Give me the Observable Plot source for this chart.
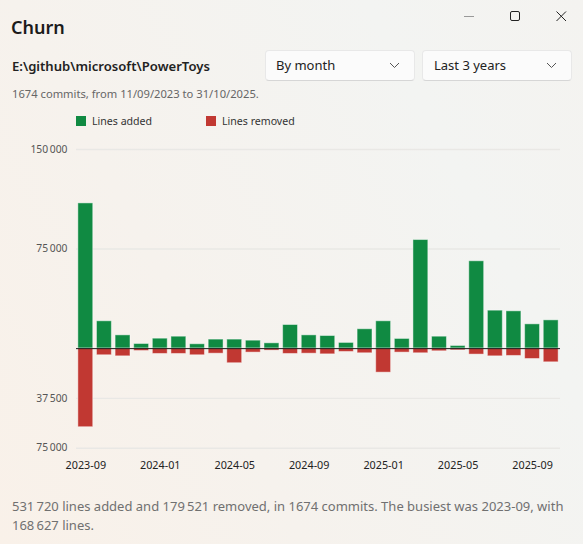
<!DOCTYPE html>
<html><head><meta charset="utf-8">
<script src="https://cdn.jsdelivr.net/npm/d3@7"></script>
<script src="https://cdn.jsdelivr.net/npm/@observablehq/plot@0.6"></script>
<style>
html,body{margin:0;padding:0;width:583px;height:544px;overflow:hidden}
body{position:relative;font-family:"Noto Sans",sans-serif;color:#1b1b1b;
background:linear-gradient(62deg,#f9f1e9 0%,#f6f2ed 35%,#f3f4f2 75%,#f4f3f0 100%)}
.a{position:absolute;white-space:nowrap}
.dd{position:absolute;top:50px;height:29px;width:148px;background:#fbfbfb;border:1px solid #e8e8e8;border-bottom-color:#d6d6d6;border-radius:4px;box-sizing:content-box;font-size:13px;line-height:29px;text-indent:10px;color:#222}
.dd svg{position:absolute;right:14px;top:11px}
.sw{position:absolute;top:116px;width:10px;height:10px}
#chart{position:absolute;left:0;top:140px}
#chart svg{display:block;background:transparent}
</style></head><body>
<div class="a" style="left:11px;top:14px;font-size:18px;font-weight:600;line-height:26px">Churn</div>
<svg class="a" style="left:460px;top:5px" width="115" height="22" fill="none" stroke="#222" stroke-width="1">
<line x1="4" y1="11.5" x2="14" y2="11.5" stroke="#999"/>
<rect x="50.5" y="6.5" width="9" height="9" rx="1.5"/>
<path d="M96.500 6.500l9.500 9.500M106 6.500l-9.500 9.500"/></svg>
<div class="a" style="left:12px;top:56px;font-size:13.1px;font-weight:600;line-height:20px;color:#222">E:\github\microsoft\PowerToys</div>
<div class="dd" style="left:265px">By month<svg width="11" height="7" fill="none" stroke="#555"><path d="M1 1l4.500 4.500L10 1"/></svg></div>
<div class="dd" style="left:422px;text-indent:11px">Last 3 years<svg width="11" height="7" fill="none" stroke="#555"><path d="M1 1l4.500 4.500L10 1"/></svg></div>
<div class="a" style="left:12px;top:86px;font-size:11.2px;line-height:15px;color:#666">1674 commits, from 11/09/2023 to 31/10/2025.</div>
<div class="sw" style="left:76px;background:#108a42"></div>
<div class="a" style="left:92px;top:114px;font-size:10.6px;line-height:15px;color:#333">Lines added</div>
<div class="sw" style="left:206px;background:#c13832"></div>
<div class="a" style="left:222px;top:114px;font-size:10.6px;line-height:15px;color:#333">Lines removed</div>
<div id="chart"></div>
<div class="a" style="left:12px;top:497px;width:560px;white-space:normal;font-size:13px;line-height:19px;color:#707070">531&#8201;720 lines added and 179&#8201;521 removed, in 1674 commits. The busiest was 2023-09, with 168&#8201;627 lines.</div>
<script>
const months = ["2023-09","2023-10","2023-11","2023-12","2024-01","2024-02","2024-03","2024-04","2024-05","2024-06","2024-07","2024-08","2024-09","2024-10","2024-11","2024-12","2025-01","2025-02","2025-03","2025-04","2025-05","2025-06","2025-07","2025-08","2025-09","2025-10"];
const added = [109400,20600,10000,3500,7500,9000,3300,6800,6800,6000,4000,17800,10000,9500,4300,14600,20600,7300,81800,9000,2000,65800,28600,28100,18300,21300];
const removed = [59200,5000,5800,1800,4000,4000,5000,3800,11000,3000,1500,4000,3800,4300,2500,3500,18100,3000,3500,2000,1300,4500,5800,5500,7800,10300];
const yTicks = [150000,75000,-37500,-75000];
const xTicks = ["2023-09","2024-01","2024-05","2024-09","2025-01","2025-05","2025-09"];
const fmt = v => d3.format(",")(Math.abs(v)).replace(/,/g,"\u2009");
const barStyle = {stroke:"#fff",strokeOpacity:0.45,strokeWidth:1};
const plot = Plot.plot({
  width:583,height:340,marginLeft:76,marginRight:23,marginTop:9,marginBottom:32.3,
  style:{fontFamily:'"Noto Sans",sans-serif',fontSize:"10.3px",background:"transparent",overflow:"visible"},
  x:{type:"band",domain:months,round:false,paddingInner:0.2,paddingOuter:0.1,label:null},
  y:{domain:[-75000,150000],label:null},
  marks:[
    Plot.ruleY(yTicks,{stroke:"#e9e8e5",strokeWidth:1.4}),
    Plot.barY(months,{x:d=>d,y1:0,y2:(d,i)=>added[i],fill:"#108a42",...barStyle}),
    Plot.barY(months,{x:d=>d,y1:0,y2:(d,i)=>-removed[i],fill:"#c13832",...barStyle}),
    Plot.ruleY([0],{stroke:"#1a1a1a",strokeWidth:1}),
    Plot.axisY({ticks:yTicks,tickFormat:fmt,tickSize:0,tickPadding:9,color:"#555",label:null}),
    Plot.axisX({ticks:xTicks,tickSize:0,tickPadding:13,fontSize:10.8,color:"#222",label:null})
  ]
});
document.getElementById("chart").appendChild(plot);
</script>
</body></html>
